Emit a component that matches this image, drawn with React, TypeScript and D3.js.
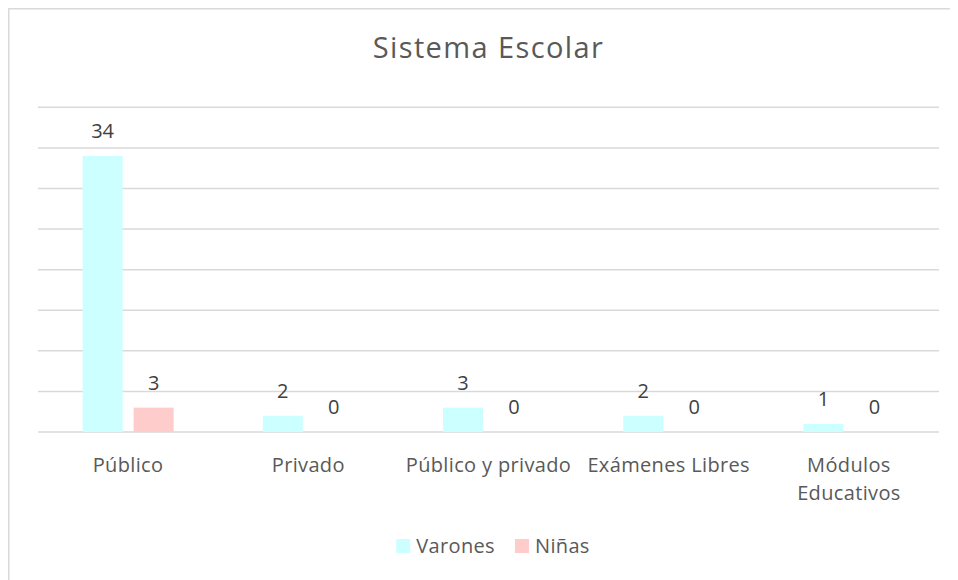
import React, { useRef, useEffect } from 'react';
import * as d3 from 'd3';

const categories = ['Público', 'Privado', 'Público y privado', 'Exámenes Libres', 'Módulos Educativos'];
const seriesNames = ['Varones', 'Niñas'];
const varones = [34, 2, 3, 2, 1];
const ninas = [3, 0, 0, 0, 0];
const yTicks = [0, 5, 10, 15, 20, 25, 30, 35, 40];
const colors = ['#CCFFFF', '#FFCCCC'];

const App = () => {
  const ref = useRef<SVGSVGElement>(null);

  useEffect(() => {
    document.documentElement.style.overflow = 'hidden';
    document.body.style.overflow = 'hidden';
    const plotRight = 931;
    const baseY = 424;
    const font = "'Open Sans', sans-serif";
    const textColor = '#595959';
    const margin = { top: 99.3, left: 30 };
    const labelSize = 20;
    const spacing = '0.35px';

    const svg = d3.select(ref.current);
    svg.selectAll('*').remove();

    // chart border: only top and left edges are in view
    svg.append('path')
      .attr('d', 'M0.75,572 V0.75 H950')
      .attr('fill', 'none')
      .attr('stroke', '#d9d9d9')
      .attr('stroke-width', 1.5);

    svg.append('text')
      .text('Sistema Escolar')
      .attr('x', 480.5)
      .attr('y', 50)
      .attr('text-anchor', 'middle')
      .attr('font-family', font)
      .attr('font-size', 29)
      .attr('letter-spacing', '1.4px')
      .attr('fill', textColor);

    const x = d3.scaleBand()
      .domain(categories)
      .range([margin.left, plotRight]);
    const y = d3.scaleLinear()
      .domain([0, 40])
      .range([baseY, margin.top]);

    svg.append('g')
      .selectAll('line')
      .data(yTicks)
      .enter()
      .append('line')
      .attr('x1', margin.left)
      .attr('x2', plotRight)
      .attr('y1', (d) => y(d))
      .attr('y2', (d) => y(d))
      .attr('stroke', '#d9d9d9')
      .attr('stroke-width', 1.5);

    const barW = 40;
    const gap = 11;

    const series = [varones, ninas];
    series.forEach((vals, si) => {
      const g = svg.append('g');
      const offset = (x.bandwidth() - (barW * 2 + gap)) / 2;
      const bx = (i: number) => (x(categories[i]) as number) + offset + si * (barW + gap);
      g.selectAll('rect')
        .data(vals)
        .enter()
        .append('rect')
        .attr('x', (_, i) => bx(i))
        .attr('y', (d) => y(d))
        .attr('width', barW)
        .attr('height', (d) => y(0) - y(d))
        .attr('fill', colors[si]);
      g.selectAll('text')
        .data(vals)
        .enter()
        .append('text')
        .text((d) => d)
        .attr('x', (_, i) => bx(i) + barW / 2)
        .attr('y', (d) => y(d) - 18)
        .attr('text-anchor', 'middle')
        .attr('font-family', font)
        .attr('font-size', labelSize)
        .attr('fill', '#404040');
    });

    // category labels, wrapped when wider than the band
    const labels = svg.append('g');
    categories.forEach((c) => {
      const cx = (x(c) as number) + x.bandwidth() / 2;
      const t = labels.append('text')
        .attr('x', cx)
        .attr('y', 463.5)
        .attr('text-anchor', 'middle')
        .attr('font-family', font)
        .attr('font-size', labelSize)
        .attr('letter-spacing', spacing)
        .attr('fill', textColor)
        .text(c);
      const len = (t.node() as SVGTextElement).getComputedTextLength();
      if (len > 175) {
        const words = c.split(' ');
        t.text(null);
        words.forEach((w, wi) => {
          t.append('tspan')
            .attr('x', cx)
            .attr('dy', wi === 0 ? 0 : 28.5)
            .text(w);
        });
      }
    });

    // legend
    const legend = svg.append('g');
    let lx = 0;
    seriesNames.forEach((s, i) => {
      const item = legend.append('g').attr('transform', `translate(${lx},0)`);
      item.append('rect')
        .attr('x', 0).attr('y', 531)
        .attr('width', 14).attr('height', 14)
        .attr('fill', colors[i]);
      const t = item.append('text')
        .text(s)
        .attr('x', 20)
        .attr('y', 545)
        .attr('font-family', font)
        .attr('font-size', labelSize)
        .attr('letter-spacing', spacing)
        .attr('fill', textColor);
      lx += 20 + (t.node() as SVGTextElement).getComputedTextLength() + 20;
    });
    const legendW = lx - 20;
    legend.attr('transform', `translate(${485 - legendW / 2},0)`);
  }, []);

  return <svg ref={ref} width={950} height={572} style={{ display: 'block' }} />;
};

export default App;
